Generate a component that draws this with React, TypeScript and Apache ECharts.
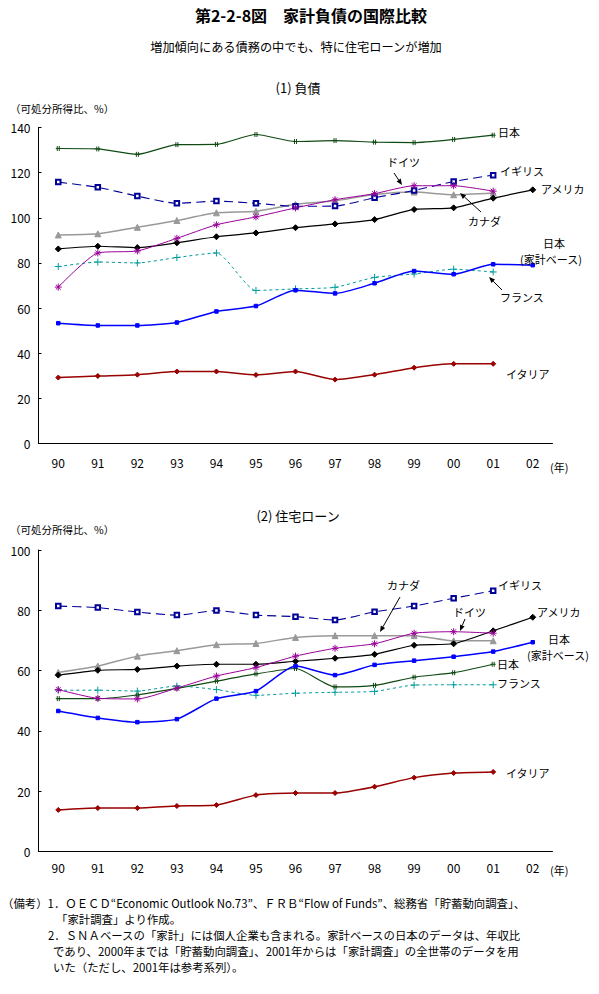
import React, { useEffect, useRef } from "react";
import * as echarts from "echarts";

const years = ["90", "91", "92", "93", "94", "95", "96", "97", "98", "99", "00", "01", "02"];
const yTicksTop = [0, 140, 20];
const yTicksBottom = [0, 100, 20];

// (1) 負債
const japanDebt = [130.7, 130.5, 128.1, 132.4, 132.5, 136.9, 133.8, 134.2, 133.5, 133.3, 134.7, 136.6, null];
const ukDebt = [115.8, 113.5, 109.6, 106.4, 107.4, 106.4, 105.1, 105.2, 108.9, 112.1, 116.1, 118.9, null];
const germanyDebt = [69.3, 84.4, 85.3, 90.9, 96.9, 100.4, 104.4, 108.0, 110.7, 114.2, 114.2, 111.8, null];
const canadaDebt = [92.4, 92.9, 95.8, 98.8, 102.2, 102.9, 106.0, 107.5, 110.3, 111.4, 110.2, 111.0, null];
const usDebt = [86.2, 87.4, 86.8, 88.9, 91.6, 93.3, 95.6, 97.3, 99.2, 103.7, 104.4, 108.7, 112.4];
const franceDebt = [78.4, 80.4, 80.0, 82.4, 84.4, 67.8, 68.5, 69.2, 73.6, 75.1, 77.2, 76.0, null];
const japanHHDebt = [53.3, 52.3, 52.3, 53.6, 58.5, 60.9, 67.9, 66.5, 71.0, 76.4, 75.0, 79.4, 79.0];
const italyDebt = [29.2, 29.9, 30.5, 31.9, 31.9, 30.4, 31.9, 28.3, 30.5, 33.6, 35.3, 35.3, null];

// (2) 住宅ローン
const ukLoan = [81.4, 80.9, 79.4, 78.4, 79.9, 78.4, 77.9, 76.8, 79.5, 81.4, 84.0, 86.5, null];
const canadaLoan = [59.4, 61.5, 64.8, 66.6, 68.6, 69.0, 71.0, 71.6, 71.6, 71.6, 69.9, 69.9, null];
const usLoan = [58.5, 60.1, 60.4, 61.5, 62.1, 62.1, 63.1, 64.1, 65.4, 68.4, 68.9, 73.2, 77.7];
const germanyLoan = [53.7, 50.8, 50.6, 54.2, 58.2, 61.0, 64.8, 67.4, 68.9, 72.4, 72.9, 72.4, null];
const japanLoan = [50.7, 50.7, 51.9, 54.1, 56.5, 58.9, 60.7, 54.6, 55.1, 57.8, 59.3, 62.1, null];
const franceLoan = [53.5, 53.5, 53.2, 54.9, 53.7, 51.8, 52.5, 52.8, 53.1, 55.2, 55.3, 55.3, null];
const japanHHLoan = [46.6, 44.3, 42.9, 43.9, 50.7, 53.2, 61.5, 58.5, 61.9, 63.3, 64.6, 66.3, 69.4];
const italyLoan = [13.8, 14.4, 14.4, 15.1, 15.4, 18.7, 19.4, 19.4, 21.5, 24.5, 26.0, 26.4, null];

const notes = [
  "（備考）1．ＯＥＣＤ“Economic Outlook No.73”、ＦＲＢ“Flow of Funds”、総務省「貯蓄動向調査」、",
  "「家計調査」より作成。",
  "2．ＳＮＡベースの「家計」には個人企業も含まれる。家計ベースの日本のデータは、年収比",
  "であり、2000年までは「貯蓄動向調査」、2001年からは「家計調査」の全世帯のデータを用",
  "いた（ただし、2001年は参考系列）。",
];

const FONT = "'Noto Sans CJK JP', 'Noto Sans', sans-serif";

const C = {
  japan: "#0f4a12",
  uk: "#000099",
  germany: "#990099",
  canada: "#999999",
  us: "#000000",
  france: "#009c9c",
  japanHH: "#0000ff",
  italy: "#990000",
};

const SYM_ASTER = "path://M5 0 L5 10 M0 5 L10 5 M1.5 1.5 L8.5 8.5 M8.5 1.5 L1.5 8.5";
const SYM_PLUS = "path://M5 0 L5 10 M0 5 L10 5";
const SYM_JP = "path://M0 5 L10 5 M3 2 L3 8 M7 2 L7 8";

function mkSeries(idx: number, name: string, data: (number | null)[], color: string, opts: any) {
  const itemStyle: any = { color, borderColor: color, borderWidth: opts.bw ?? 1 };
  return {
    type: "line",
    name,
    xAxisIndex: idx,
    yAxisIndex: idx,
    data,
    smooth: 0.2,
    symbol: opts.symbol,
    symbolSize: opts.size,
    showSymbol: true,
    connectNulls: false,
    lineStyle: { color, width: opts.width ?? 1.2, type: opts.dash ?? "solid" },
    itemStyle,
    z: opts.z ?? 2,
  };
}

function buildSeries(idx: number, d: any) {
  return [
    mkSeries(idx, "日本", d.japan, C.japan, { symbol: SYM_JP, size: 5, width: 1.2 }),
    mkSeries(idx, "イギリス", d.uk, C.uk, { symbol: "emptyRect", size: 4.5, width: 1.1, dash: [9, 5], bw: 0.9, z: 3 }),
    mkSeries(idx, "カナダ", d.canada, C.canada, { symbol: "triangle", size: 6, width: 1.5 }),
    mkSeries(idx, "ドイツ", d.germany, C.germany, { symbol: SYM_ASTER, size: 7, width: 1, z: 3 }),
    mkSeries(idx, "アメリカ", d.us, C.us, { symbol: "diamond", size: 6, width: 1.2 }),
    mkSeries(idx, "フランス", d.france, C.france, { symbol: SYM_PLUS, size: 7, width: 1, dash: [3, 3] }),
    mkSeries(idx, "日本（家計ベース）", d.japanHH, C.japanHH, { symbol: "rect", size: 3.5, width: 1.5 }),
    mkSeries(idx, "イタリア", d.italy, C.italy, { symbol: "diamond", size: 5, width: 1.5 }),
  ];
}

function txt(x: number, y: number, text: string, size = 11, extra: any = {}) {
  return {
    type: "text",
    x,
    y,
    style: {
      text,
      fontFamily: FONT,
      fontSize: size,
      fill: "#000",
      textVerticalAlign: "middle",
      verticalAlign: "middle",
      ...extra,
    },
    z: 10,
  };
}

function arrow(x1: number, y1: number, x2: number, y2: number) {
  const dx = x2 - x1;
  const dy = y2 - y1;
  const len = Math.sqrt(dx * dx + dy * dy) || 1;
  const ux = dx / len;
  const uy = dy / len;
  const hl = 6;
  const hw = 2.5;
  const bx = x2 - ux * hl;
  const by = y2 - uy * hl;
  return [
    {
      type: "line",
      shape: { x1, y1, x2: bx, y2: by },
      style: { stroke: "#000", lineWidth: 1 },
      z: 10,
    },
    {
      type: "polygon",
      shape: {
        points: [
          [x2, y2],
          [bx - uy * hw, by + ux * hw],
          [bx + uy * hw, by - ux * hw],
        ],
      },
      style: { fill: "#000" },
      z: 10,
    },
  ];
}

function xAxisCfg(gridIndex: number, margin: number) {
  return {
    type: "category",
    gridIndex,
    data: years,
    boundaryGap: true,
    axisLine: { lineStyle: { color: "#000", width: 1 } },
    axisTick: { inside: true, length: 3, lineStyle: { color: "#000" } },
    axisLabel: { color: "#000", fontFamily: FONT, fontSize: 12, margin },
    splitLine: { show: false },
  };
}

function yAxisCfg(gridIndex: number, t: number[]) {
  return {
    type: "value",
    gridIndex,
    min: t[0],
    max: t[1],
    interval: t[2],
    axisLine: { show: true, lineStyle: { color: "#000", width: 1 } },
    axisTick: { show: true, inside: true, length: 3, lineStyle: { color: "#000" } },
    axisLabel: { color: "#000", fontFamily: FONT, fontSize: 12, margin: 8 },
    splitLine: { show: false },
  };
}

export default function App() {
  const ref = useRef<HTMLDivElement>(null);
  useEffect(() => {
    document.body.style.margin = "0";
    if (!ref.current) return;
    const chart = echarts.init(ref.current, undefined, { renderer: "svg" });
    const NF = 11.4;
    const graphic: any[] = [
      txt(311, 15, "第2-2-8図　家計負債の国際比較", 16, { textAlign: "center", fontWeight: "bold" }),
      txt(296, 47, "増加傾向にある債務の中でも、特に住宅ローンが増加", 12.2, { textAlign: "center" }),
      txt(298, 87, "(1) 負債", 13, { textAlign: "center" }),
      txt(10, 108, "（可処分所得比、%）", 10.5),
      txt(550, 467, "(年)", 11),
      // top labels
      txt(498, 132, "日本"),
      txt(387, 162, "ドイツ"),
      txt(500, 171, "イギリス"),
      txt(541, 189, "アメリカ"),
      txt(468, 221, "カナダ"),
      txt(543, 243, "日本"),
      txt(520, 258.5, "(家計ベース)"),
      txt(500, 297, "フランス"),
      txt(506, 374, "イタリア"),
      ...arrow(394, 173, 402, 185),
      ...arrow(481, 212, 460, 193),
      ...arrow(502, 290, 489, 277),
      // bottom
      txt(298, 515, "(2) 住宅ローン", 13, { textAlign: "center" }),
      txt(10, 529, "（可処分所得比、%）", 10.5),
      txt(550, 870, "(年)", 11),
      txt(387, 585, "カナダ"),
      txt(498, 585, "イギリス"),
      txt(453, 612, "ドイツ"),
      txt(537, 612, "アメリカ"),
      txt(548, 639, "日本"),
      txt(527, 654.5, "(家計ベース)"),
      txt(497, 664, "日本"),
      txt(497, 683, "フランス"),
      txt(506, 773, "イタリア"),
      ...arrow(400, 597, 380, 632),
      ...arrow(465, 619, 460, 631),
      // notes
      txt(2, 903, notes[0], NF),
      txt(56, 919, notes[1], NF),
      txt(48, 935, notes[2], NF),
      txt(53, 951, notes[3], NF),
      txt(53, 967, notes[4], NF),
    ];
    chart.setOption({
      animation: false,
      backgroundColor: "#fff",
      textStyle: { fontFamily: FONT },
      grid: [
        { left: 38.5, top: 127.5, width: 514, height: 316 },
        { left: 38.5, top: 550, width: 514, height: 301.5 },
      ],
      xAxis: [xAxisCfg(0, 13), xAxisCfg(1, 10)],
      yAxis: [yAxisCfg(0, yTicksTop), yAxisCfg(1, yTicksBottom)],
      series: [
        ...buildSeries(0, {
          japan: japanDebt,
          uk: ukDebt,
          germany: germanyDebt,
          canada: canadaDebt,
          us: usDebt,
          france: franceDebt,
          japanHH: japanHHDebt,
          italy: italyDebt,
        }),
        ...buildSeries(1, {
          japan: japanLoan,
          uk: ukLoan,
          germany: germanyLoan,
          canada: canadaLoan,
          us: usLoan,
          france: franceLoan,
          japanHH: japanHHLoan,
          italy: italyLoan,
        }),
      ],
      graphic,
    });
    return () => chart.dispose();
  }, []);
  return <div ref={ref} style={{ width: 599, height: 994 }} />;
}
